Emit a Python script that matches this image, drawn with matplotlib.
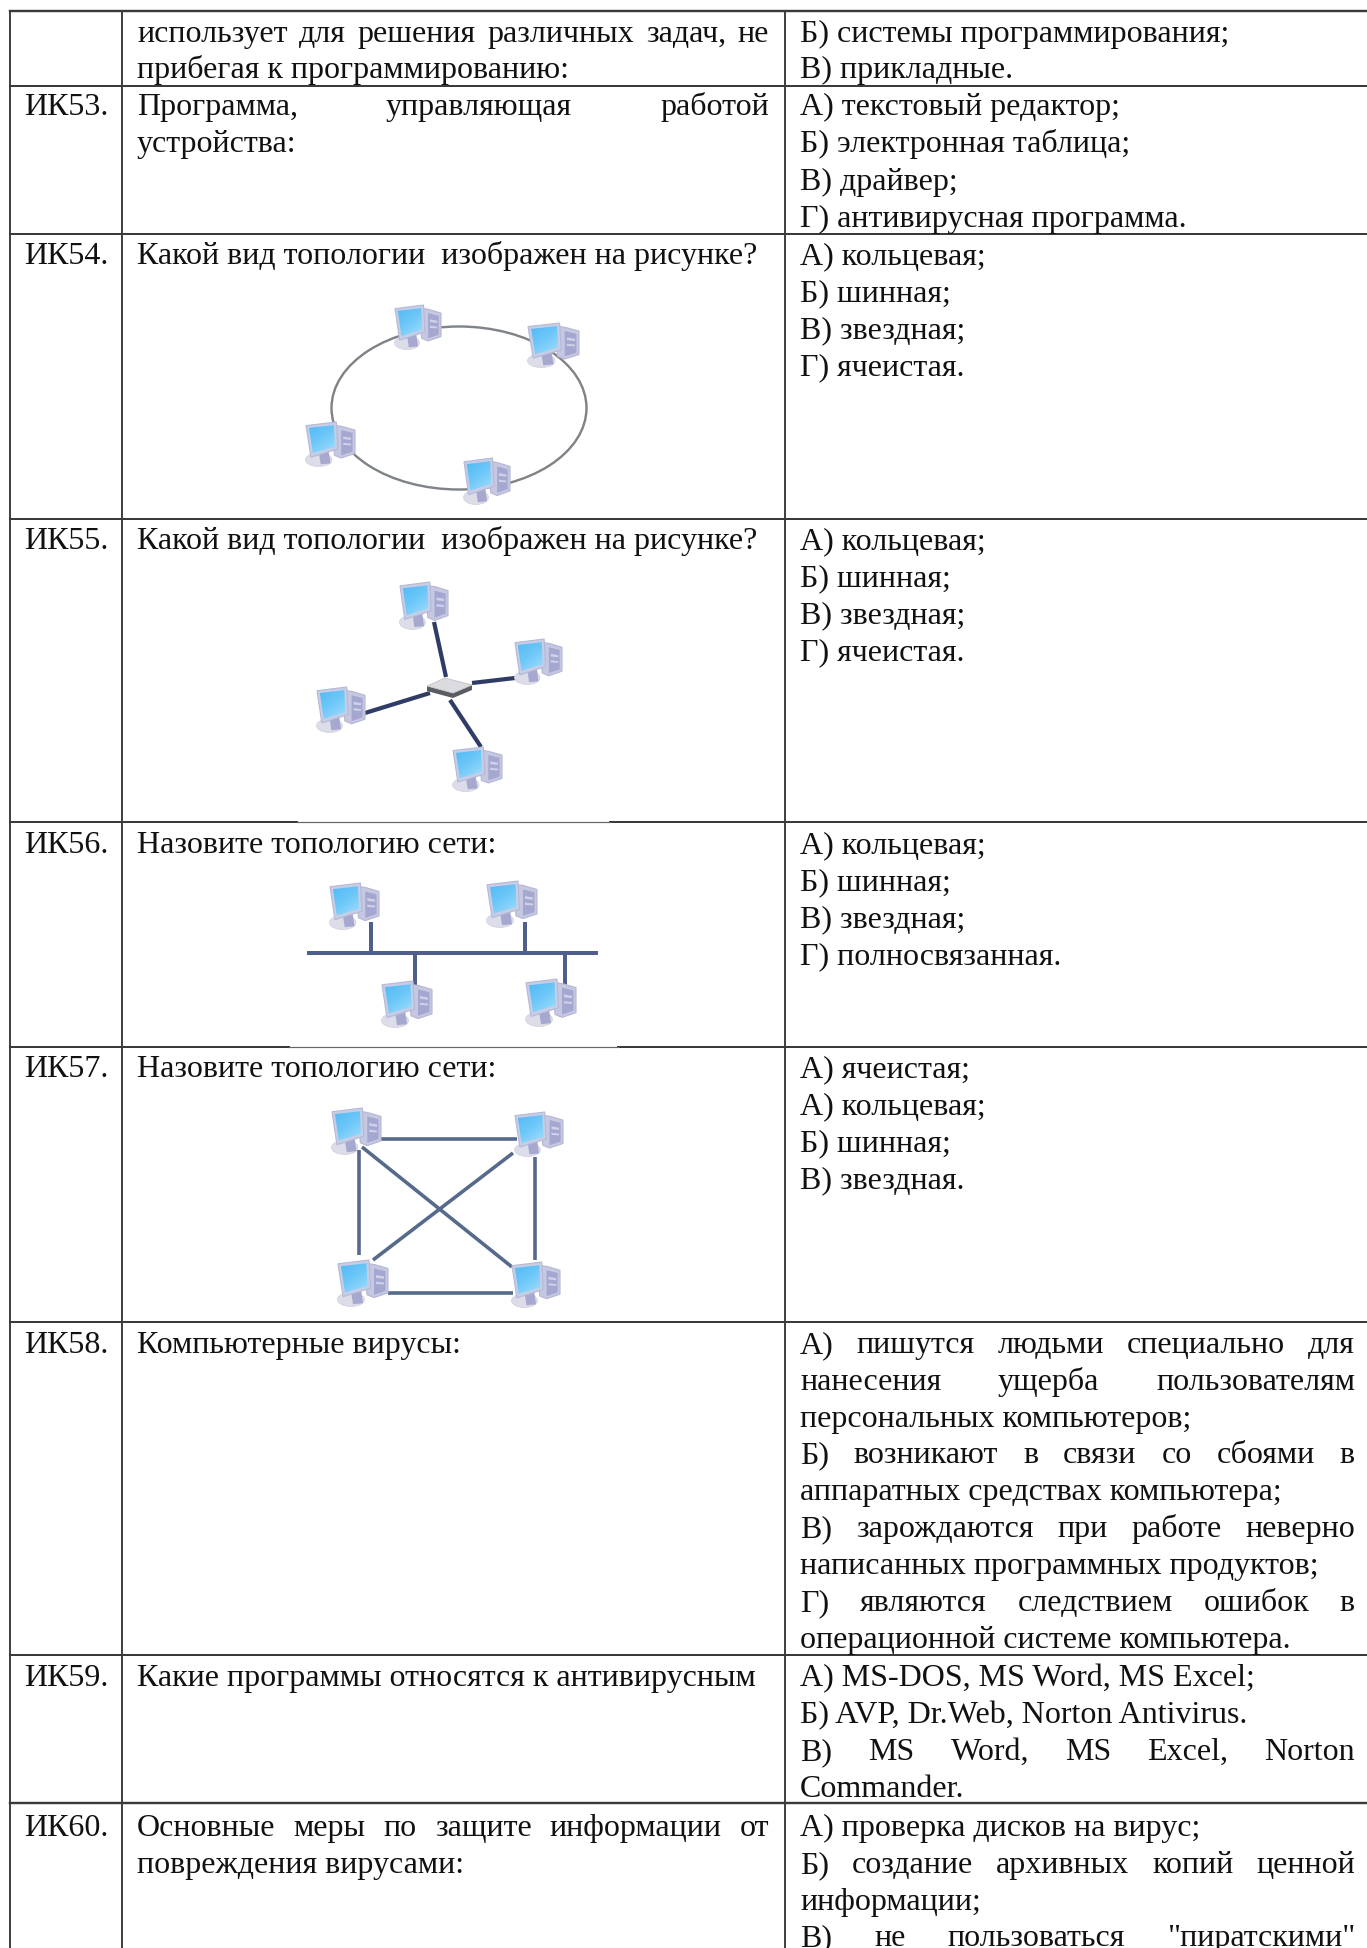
import matplotlib
matplotlib.use("Agg")
import matplotlib.pyplot as plt
import numpy as np
from matplotlib.patches import Ellipse, Polygon
from matplotlib.colors import LinearSegmentedColormap

W, H = 1367, 1948
FONT = "Liberation Serif"
FS = 23.0
INK = "#111111"
RULE = "#3a3a3a"

# table geometry (pixels of the page)
col_lines = [10, 122, 785]
row_lines = [11, 86, 234, 519, 822, 1047, 1322, 1655, 1803]
soft_gaps = {822: (297, 610), 1047: (289, 618)}

# question labels: (label, baseline)
labels = [("ИК53.", 115), ("ИК54.", 264), ("ИК55.", 549), ("ИК56.", 853),
          ("ИК57.", 1077), ("ИК58.", 1353), ("ИК59.", 1686), ("ИК60.", 1836)]

# question column: (text, baseline, justified)
questions = [
    ("использует для решения различных задач, не", 42, True),
    ("прибегая к программированию:", 78, False),
    ("Программа, управляющая работой", 115, True),
    ("устройства:", 152, False),
    ("Какой вид топологии  изображен на рисунке?", 264, False),
    ("Какой вид топологии  изображен на рисунке?", 549, False),
    ("Назовите топологию сети:", 853, False),
    ("Назовите топологию сети:", 1077, False),
    ("Компьютерные вирусы:", 1353, False),
    ("Какие программы относятся к антивирусным", 1686, False),
    ("Основные меры по защите информации от", 1836, True),
    ("повреждения вирусами:", 1873, False),
]

# answer column: (text, baseline, justified)
answers = [
    ("Б) системы программирования;", 42, False),
    ("В) прикладные.", 78, False),
    ("А) текстовый редактор;", 115, False),
    ("Б) электронная таблица;", 152, False),
    ("В) драйвер;", 190, False),
    ("Г) антивирусная программа.", 227, False),
    ("А) кольцевая;", 264, False),
    ("Б) шинная;", 301, False),
    ("В) звездная;", 338, False),
    ("Г) ячеистая.", 375, False),
    ("А) кольцевая;", 549, False),
    ("Б) шинная;", 586, False),
    ("В) звездная;", 623, False),
    ("Г) ячеистая.", 660, False),
    ("А) кольцевая;", 853, False),
    ("Б) шинная;", 890, False),
    ("В) звездная;", 927, False),
    ("Г) полносвязанная.", 964, False),
    ("А) ячеистая;", 1077, False),
    ("А) кольцевая;", 1114, False),
    ("Б) шинная;", 1151, False),
    ("В) звездная.", 1188, False),
    ("А) пишутся людьми специально для", 1353, True),
    ("нанесения ущерба пользователям", 1390, True),
    ("персональных компьютеров;", 1427, False),
    ("Б) возникают в связи со сбоями в", 1463, True),
    ("аппаратных средствах компьютера;", 1500, False),
    ("В) зарождаются при работе неверно", 1537, True),
    ("написанных программных продуктов;", 1574, False),
    ("Г) являются следствием ошибок в", 1611, True),
    ("операционной системе компьютера.", 1648, False),
    ("А) MS-DOS, MS Word, MS Excel;", 1686, False),
    ("Б) AVP, Dr.Web, Norton Antivirus.", 1723, False),
    ("В) MS Word, MS Excel, Norton", 1760, True),
    ("Commander.", 1797, False),
    ("А) проверка дисков на вирус;", 1836, False),
    ("Б) создание архивных копий ценной", 1873, True),
    ("информации;", 1910, False),
    ("В) не пользоваться \"пиратскими\"", 1946, True),
]

# topology diagrams: computer boxes (x0, y0, x1, y1)
ring_pcs = [(395, 305, 441, 350), (528, 323, 579, 368), (306, 422, 355, 467), (464, 458, 510, 505)]
ring_center = (459, 408)
ring_size = (255, 163)

star_pcs = [(400, 582, 448, 630), (515, 639, 562, 685), (317, 687, 365, 733), (453, 747, 502, 792)]
star_links = [((434, 622), (446, 677)), ((472, 683), (515, 678)),
              ((365, 713), (430, 693)), ((450, 700), (481, 747))]
star_hub = (449, 688)

bus_pcs = [(330, 883, 379, 930), (487, 881, 537, 928), (382, 981, 432, 1028), (526, 979, 576, 1027)]
bus_links = [((307, 953), (598, 953)), ((371, 922), (371, 953)), ((525, 922), (525, 953)),
             ((415, 953), (415, 985)), ((565, 953), (565, 985))]

mesh_pcs = [(332, 1108, 381, 1155), (515, 1112, 563, 1157), (338, 1260, 388, 1307), (512, 1262, 560, 1308)]
mesh_links = [((380, 1139), (517, 1139)), ((388, 1293), (513, 1293)), ((359, 1150), (359, 1255)),
              ((535, 1157), (535, 1260)), ((362, 1147), (512, 1267)), ((513, 1153), (373, 1260))]

fig = plt.figure(figsize=(W / 100, H / 100), dpi=100, facecolor="white")
ax = fig.add_axes([0, 0, 1, 1])
ax.set_xlim(0, W)
ax.set_ylim(H, 0)
ax.axis("off")
px = 0.72
renderer = fig.canvas.get_renderer()


def width(s):
    t = ax.text(0, 0, s, family=FONT, fontsize=FS)
    w = t.get_window_extent(renderer).width
    t.remove()
    return w


def put(s, x, y, just=False, right=None):
    if not just:
        ax.text(x, y, s, family=FONT, fontsize=FS, color=INK, va="baseline", ha="left")
        return
    words = s.split()
    ws = [width(w) for w in words]
    gap = (right - x - sum(ws)) / (len(words) - 1)
    cx = x
    for w, wd in zip(words, ws):
        ax.text(cx, y, w, family=FONT, fontsize=FS, color=INK, va="baseline", ha="left")
        cx += wd + gap


screen_cmap = LinearSegmentedColormap.from_list("scr", ["#4db6f3", "#6cc7f8", "#a6e0fc"])
grad = np.add.outer(np.linspace(0, 0.6, 64), np.linspace(0, 0.4, 64))


def pc(box):
    x0, y0, x1, y1 = box
    w, h = x1 - x0, y1 - y0
    P = lambda pts: [(x0 + a * w, y0 + b * h) for a, b in pts]
    ax.add_patch(Ellipse((x0 + 0.26 * w, y0 + 0.84 * h), 0.54 * w, 0.30 * h, fc="#dcdde8", ec="#cfd0de", lw=0.5, zorder=4))
    ax.add_patch(Polygon(P([(0.52, 0.06), (0.74, 0.10), (1.0, 0.18), (1.0, 0.70), (0.72, 0.80), (0.58, 0.74)]),
                         fc="#c6c8e2", ec="#b5b7d6", lw=0.8, zorder=4))
    ax.add_patch(Polygon(P([(0.72, 0.18), (0.95, 0.24), (0.95, 0.66), (0.72, 0.74)]), fc="#a4a7cf", ec="none", zorder=4))
    ax.add_patch(Polygon(P([(0.76, 0.32), (0.92, 0.35), (0.92, 0.40), (0.76, 0.38)]), fc="#cfd1e8", ec="none", zorder=4))
    ax.add_patch(Polygon(P([(0.76, 0.46), (0.92, 0.48), (0.92, 0.52), (0.76, 0.51)]), fc="#cfd1e8", ec="none", zorder=4))
    ax.add_patch(Polygon(P([(0.26, 0.66), (0.46, 0.62), (0.50, 0.92), (0.30, 0.94)]), fc="#a6a8d0", ec="none", zorder=4))
    ax.add_patch(Polygon(P([(0.0, 0.08), (0.62, 0.0), (0.65, 0.60), (0.10, 0.78)]), fc="#c8cde6", ec="#b4b9d8", lw=0.8, zorder=5))
    scr = Polygon(P([(0.06, 0.13), (0.57, 0.07), (0.59, 0.55), (0.14, 0.69)]), fc="none", ec="none", zorder=6,
                  transform=ax.transData)
    ax.add_patch(scr)
    im = ax.imshow(grad, extent=(x0, x0 + 0.62 * w, y0 + 0.72 * h, y0), cmap=screen_cmap, aspect="auto", zorder=6,
                   vmin=0, vmax=1)
    im.set_clip_path(scr)


def links(segments, color, lw):
    for (a, b), (c, d) in segments:
        ax.plot([a, c], [b, d], color=color, lw=lw * px, solid_capstyle="butt", zorder=3)


# grid of the table
for y in row_lines:
    lw = 2.4 if y in (row_lines[0], 1803) else 2.0
    gap = soft_gaps.get(y)
    if gap:
        ax.plot([col_lines[0], gap[0]], [y, y], color=RULE, lw=lw * px, zorder=2)
        ax.plot([gap[1], W], [y, y], color=RULE, lw=lw * px, zorder=2)
        ax.plot([gap[0], gap[1]], [y + 0.4, y + 0.4], color="#666666", lw=1.2 * px, zorder=2)
    else:
        ax.plot([col_lines[0], W], [y, y], color=RULE, lw=lw * px, zorder=2)
for x in col_lines:
    ax.plot([x, x], [row_lines[0], H], color=RULE, lw=1.9 * px, zorder=2)

for s, y in labels:
    put(s, 24.5, y)
for s, y, j in questions:
    put(s, 137, y, j, 769)
for s, y, j in answers:
    put(s, 800, y, j, 1355)

# ring
ax.add_patch(Ellipse(ring_center, *ring_size, fc="none", ec="#7f8388", lw=2.4 * px, zorder=3))
# star
links(star_links, "#2e3c66", 4.2)
hx, hy = star_hub
ax.add_patch(Polygon([(hx - 22, hy - 2), (hx + 4, hy + 5), (hx + 23, hy - 3), (hx + 23, hy + 2), (hx + 4, hy + 10), (hx - 22, hy + 3)], fc="#5a5c63", ec="none", zorder=4))
ax.add_patch(Polygon([(hx - 22, hy - 2), (hx - 4, hy - 10), (hx + 23, hy - 3), (hx + 4, hy + 5)], fc="#dcdce0", ec="#c0c1c6", lw=0.6, zorder=4))
# bus and mesh
links(bus_links, "#4d5f8a", 4.0)
links(mesh_links, "#566a8c", 3.6)

for group in (ring_pcs, star_pcs, bus_pcs, mesh_pcs):
    for b in group:
        pc(b)

ax.set_xlim(0, W)
ax.set_ylim(H, 0)
fig.savefig("out.png", dpi=100, facecolor="white")
